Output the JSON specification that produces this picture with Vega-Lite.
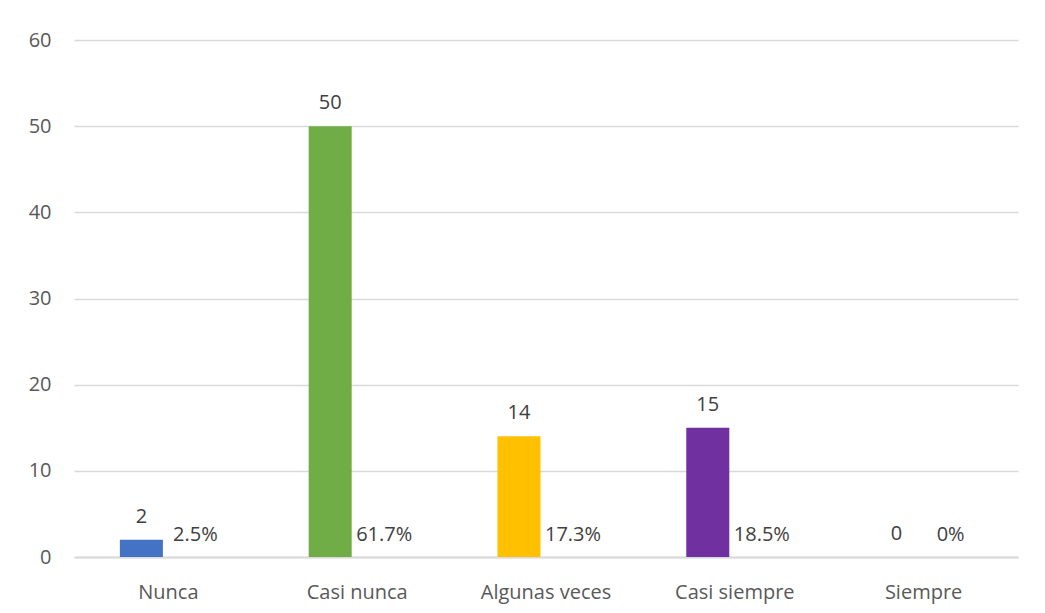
{
  "$schema": "https://vega.github.io/schema/vega-lite/v6.json",
  "autosize": {"type": "none"},
  "padding": {"left": 74, "top": 40, "right": 27, "bottom": 56},
  "width": 944,
  "height": 517,
  "background": "white",
  "config": {
    "view": {"stroke": null},
    "font": "Open Sans",
    "text": {"font": "Open Sans"}
  },
  "data": {
    "values": [
      {"categoria": "Nunca", "frecuencia": 2, "porcentaje": 0.025},
      {"categoria": "Casi nunca", "frecuencia": 50, "porcentaje": 0.617},
      {"categoria": "Algunas veces", "frecuencia": 14, "porcentaje": 0.173},
      {"categoria": "Casi siempre", "frecuencia": 15, "porcentaje": 0.185},
      {"categoria": "Siempre", "frecuencia": 0, "porcentaje": 0}
    ]
  },
  "encoding": {
    "x": {
      "field": "categoria",
      "type": "nominal",
      "sort": null,
      "scale": {"paddingInner": 0.486, "paddingOuter": 0.243},
      "axis": {
        "title": null,
        "labelAngle": 0,
        "labelFont": "Open Sans",
        "labelFontSize": 20,
        "labelColor": "#595959",
        "labelBaseline": "alphabetic",
        "labelPadding": 41,
        "ticks": false,
        "tickSize": 0,
        "domain": true,
        "domainColor": "#d9d9d9",
        "domainWidth": 2,
        "grid": false
      }
    }
  },
  "layer": [
    {
      "mark": {"type": "bar"},
      "encoding": {
        "xOffset": {"datum": "Frecuencia", "type": "nominal", "scale": {"domain": ["Frecuencia", "Porcentaje"], "paddingInner": 0.204, "paddingOuter": 0}},
        "y": {
          "field": "frecuencia",
          "type": "quantitative",
          "scale": {"domain": [0, 60], "nice": false},
          "axis": {
            "title": null,
            "values": [0, 10, 20, 30, 40, 50, 60],
            "labelFont": "Open Sans",
            "labelFontSize": 20,
            "labelColor": "#595959",
            "labelPadding": 23,
            "ticks": false,
            "tickSize": 0,
            "domain": false,
            "grid": true,
            "gridColor": "#d9d9d9",
            "gridWidth": 1.6
          }
        },
        "color": {
          "field": "categoria",
          "type": "nominal",
          "legend": null,
          "scale": {
            "domain": ["Nunca", "Casi nunca", "Algunas veces", "Casi siempre", "Siempre"],
            "range": ["#4472C4", "#70AD47", "#FFC000", "#7030A0", "#5B9BD5"]
          }
        }
      }
    },
    {
      "mark": {"type": "text", "baseline": "alphabetic", "dy": -17, "fontSize": 20, "color": "#404040", "font": "Open Sans"},
      "encoding": {
        "xOffset": {"datum": "Frecuencia", "type": "nominal"},
        "y": {"field": "frecuencia", "type": "quantitative"},
        "text": {"field": "frecuencia", "type": "quantitative"}
      }
    },
    {
      "mark": {"type": "text", "baseline": "alphabetic", "dy": -16, "fontSize": 20, "color": "#404040", "font": "Open Sans"},
      "encoding": {
        "xOffset": {"datum": "Porcentaje", "type": "nominal"},
        "y": {"datum": 0, "type": "quantitative"},
        "text": {"field": "porcentaje", "type": "quantitative", "format": ".1~%"}
      }
    }
  ]
}
